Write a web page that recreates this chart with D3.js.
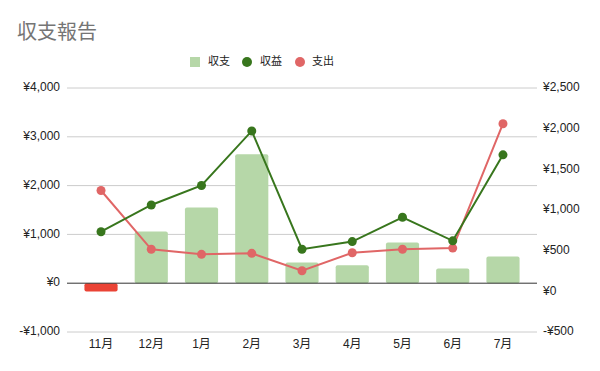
<!DOCTYPE html>
<html>
<head>
<meta charset="utf-8">
<script src="https://cdn.jsdelivr.net/npm/d3@7"></script>
<style>
  body { margin: 0; background: #fff; }
  text { font-family: "Liberation Sans", Arial, "Noto Sans CJK JP", sans-serif; }
</style>
</head>
<body>
<div id="chart"></div>
<script>
const months = ["11月", "12月", "1月", "2月", "3月", "4月", "5月", "6月", "7月"];
const balance = [-170, 1060, 1550, 2640, 424, 369, 835, 301, 547];
const income = [733, 1062, 1301, 1972, 518, 612, 911, 621, 1678];
const expense = [1240, 517, 455, 467, 253, 474, 517, 532, 2061];
const leftTicks = [-1000, 0, 1000, 2000, 3000, 4000];
const rightTicks = [-500, 0, 500, 1000, 1500, 2000, 2500];

const width = 600
, height = 371
, plotLeft = 67
, plotRight = 537
, plotTop = 88
, plotBottom = 332
, textColor = "#222"
, barColor = "#b6d7a8"
, negColor = "#ea4335"
, incomeColor = "#38761d"
, expenseColor = "#e06666";

const svg = d3.select("#chart").append("svg")
  .attr("width", width)
  .attr("height", height);

const x = d3.scaleBand()
  .domain(months)
  .range([plotLeft, plotRight])
  .paddingInner(0.34)
  .paddingOuter(0.347);

const yLeft = d3.scaleLinear().domain([-1000, 4000]).range([plotBottom, plotTop]);
const yRight = d3.scaleLinear().domain([-500, 2500]).range([plotBottom, plotTop]);

const yen = v => (v < 0 ? "-¥" : "¥") + d3.format(",")(Math.abs(v));

// title
svg.append("text")
  .attr("x", 17)
  .attr("y", 39)
  .text("収支報告")
  .style("font-family", "'Noto Sans CJK JP', sans-serif")
  .style("font-size", "20px")
  .style("fill", "#757575");

// legend
const legend = svg.append("g")
  .style("font-family", "'Noto Sans CJK JP', sans-serif")
  .style("font-size", "11px")
  .style("fill", textColor);
legend.append("rect").attr("x", 190).attr("y", 57).attr("width", 10).attr("height", 10)
  .style("fill", barColor);
legend.append("text").attr("x", 208).attr("y", 62).attr("dominant-baseline", "middle").text("収支");
legend.append("circle").attr("cx", 247).attr("cy", 62).attr("r", 5).style("fill", incomeColor);
legend.append("text").attr("x", 260).attr("y", 62).attr("dominant-baseline", "middle").text("収益");
legend.append("circle").attr("cx", 300).attr("cy", 62).attr("r", 5).style("fill", expenseColor);
legend.append("text").attr("x", 312).attr("y", 62).attr("dominant-baseline", "middle").text("支出");

// grid lines + axes labels
svg.append("g")
  .selectAll("line")
  .data(leftTicks.filter(d => d != 0))
  .enter().append("line")
  .attr("x1", plotLeft)
  .attr("x2", plotRight)
  .attr("y1", d => yLeft(d))
  .attr("y2", d => yLeft(d))
  .style("stroke", "#ccc")
  .style("stroke-width", 1);

svg.append("g")
  .selectAll("text")
  .data(leftTicks)
  .enter().append("text")
  .attr("x", 60)
  .attr("y", d => yLeft(d))
  .attr("text-anchor", "end")
  .attr("dominant-baseline", "middle")
  .text(yen)
  .style("font-size", "12px")
  .style("fill", textColor);

svg.append("g")
  .selectAll("text")
  .data(rightTicks)
  .enter().append("text")
  .attr("x", 543)
  .attr("y", d => yRight(d))
  .attr("dominant-baseline", "middle")
  .text(yen)
  .style("font-size", "12px")
  .style("fill", textColor);

// bars
svg.append("g")
  .selectAll("rect")
  .data(months.map((m, i) => ({ m: m, v: balance[i] })))
  .enter().append("rect")
  .attr("x", d => x(d.m))
  .attr("y", d => yLeft(Math.max(0, d.v)))
  .attr("width", x.bandwidth())
  .attr("height", d => Math.abs(yLeft(d.v) - yLeft(0)))
  .attr("rx", 2)
  .style("fill", d => d.v < 0 ? negColor : barColor);

// zero line
svg.append("line")
  .attr("x1", plotLeft)
  .attr("x2", plotRight)
  .attr("y1", yLeft(0))
  .attr("y2", yLeft(0))
  .style("stroke", "#333")
  .style("stroke-width", 1);

// x labels
svg.append("g")
  .selectAll("text")
  .data(months)
  .enter().append("text")
  .attr("x", d => x(d) + x.bandwidth() / 2)
  .attr("y", 345)
  .attr("text-anchor", "middle")
  .attr("dominant-baseline", "middle")
  .text(d => d)
  .style("font-size", "12px")
  .style("fill", textColor);

// lines
function drawSeries(values, color) {
  const pts = months.map((m, i) => ({ m: m, v: values[i] }));
  const line = d3.line()
    .x(d => x(d.m) + x.bandwidth() / 2)
    .y(d => yRight(d.v));
  svg.append("path")
    .datum(pts)
    .attr("d", line)
    .style("fill", "none")
    .style("stroke", color)
    .style("stroke-width", 2);
  svg.append("g")
    .selectAll("circle")
    .data(pts)
    .enter().append("circle")
    .attr("cx", d => x(d.m) + x.bandwidth() / 2)
    .attr("cy", d => yRight(d.v))
    .attr("r", 4.5)
    .style("fill", color);
}

drawSeries(expense, expenseColor);
drawSeries(income, incomeColor);
</script>
</body>
</html>
